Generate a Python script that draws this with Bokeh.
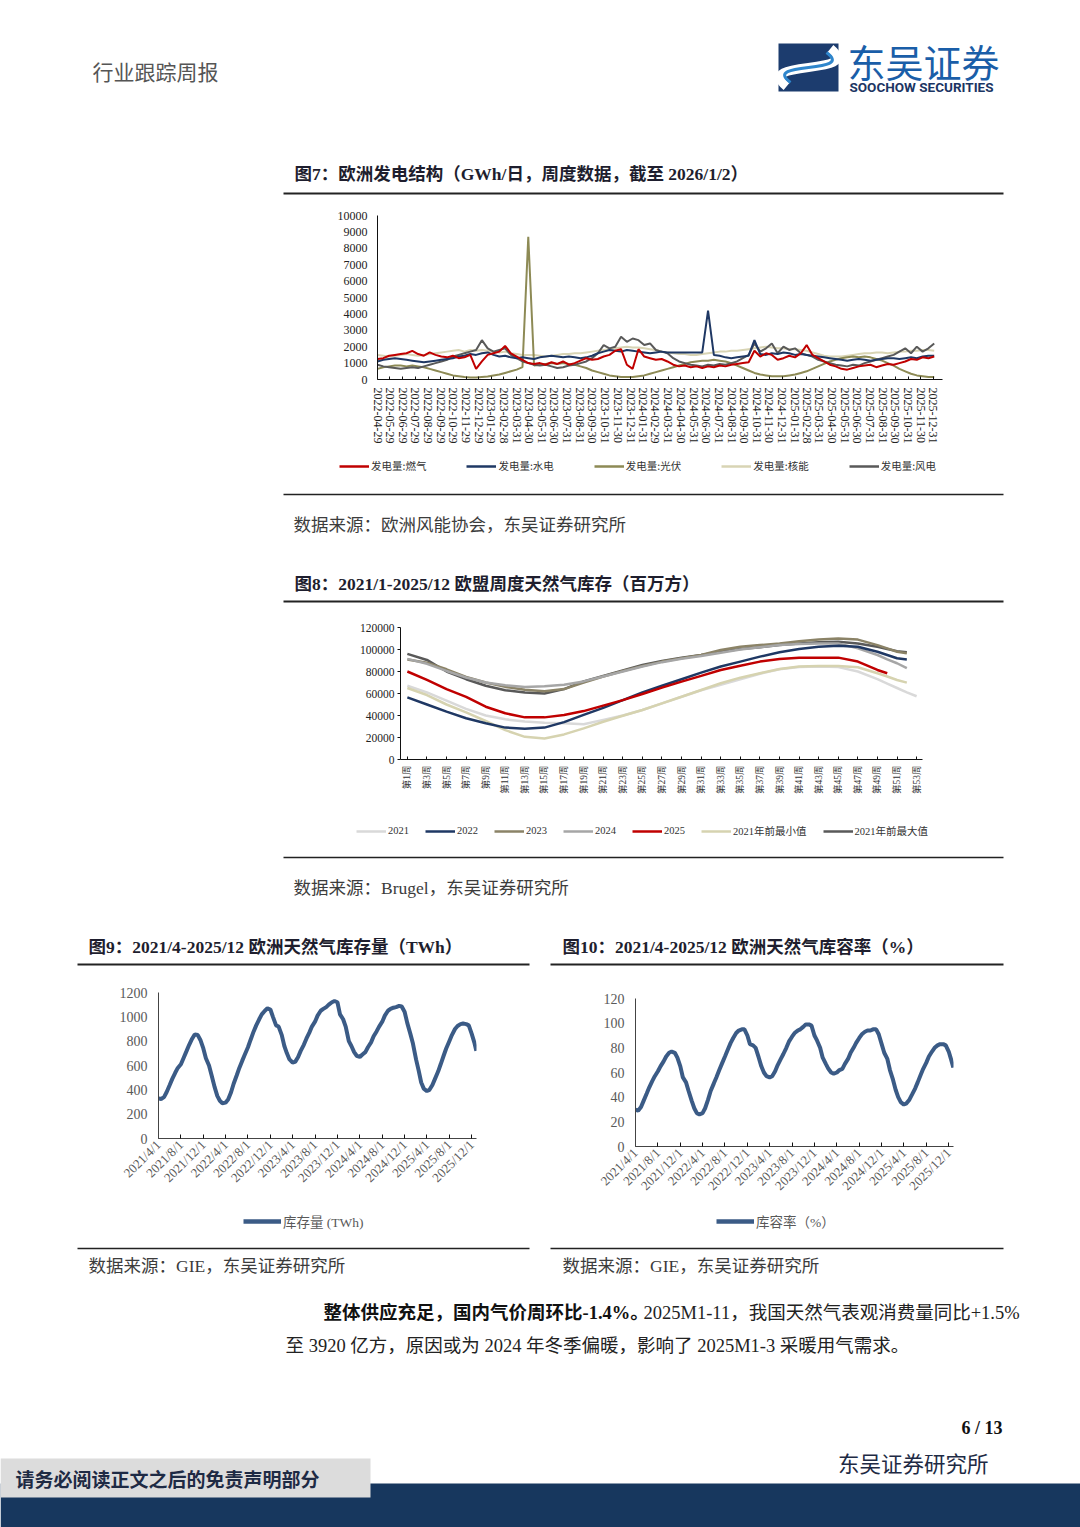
import numpy as np
import pandas as pd
from bokeh.plotting import figure
from bokeh.models import Range1d, FixedTicker, Legend, LegendItem, BasicTickFormatter
from bokeh.layouts import column, row
from bokeh.core.properties import value
from bokeh.embed import file_html
from bokeh.resources import INLINE

CJK = "Noto Sans CJK SC"
SERIF = "Liberation Serif"
MIX = "Liberation Serif, Noto Sans CJK SC"
nan = float("nan")

# ---------------- Figure 7 data: European power generation (GWh/day), bi-weekly ----------------
start7 = "2022-04-29"
gen_gas = [1250,1300,1450,1500,1550,1600,1750,1550,1450,1650,
           1500,1400,1350,1450,1300,1350,1500,650,
           1100,1500,1600,1700,2050,1600,1400,1200,
           1000,950,1000,900,1050,950,1100,900,1000,1150,1300,1200,
           1250,1400,1500,1750,1850,900,650,1850,1400,1300,1200,1250,
           1100,900,800,850,750,800,700,800,750,850,800,900,
           950,1000,1050,1750,1400,1600,1500,1200,1300,1450,1350,1600,
           2100,1500,1300,1100,900,800,650,600,700,800,850,900,
           750,850,950,900,1000,1100,1250,1200,1350,1300,1400]
gen_hydro = [1100,1200,1250,1300,1250,1200,1150,1100,1050,1100,
             1150,1200,1250,1300,1400,1450,1550,1500,
             1600,1650,1500,1400,1450,1350,1300,1350,
             1300,1250,1350,1400,1450,1400,1350,1400,1350,1300,1350,1450,
             1600,1700,1800,1750,1700,1800,1750,1700,1650,1600,1650,1700,
             1650,1650,1650,1650,1650,1650,1650,4200,1500,1450,1350,1300,
             1350,1400,1450,2400,1550,1500,1600,1550,1650,1600,1500,1550,
             1500,1450,1400,1350,1300,1250,1200,1150,1200,1250,1200,1150,
             1200,1250,1300,1300,1250,1300,1350,1300,1400,1450,1450]
gen_solar = [650,750,800,850,850,800,850,800,750,650,
             550,450,350,250,200,150,120,120,
             150,180,250,300,400,500,600,750,
             8700,850,900,950,1000,950,1000,950,900,800,700,550,
             450,350,250,200,150,150,150,200,250,350,450,550,
             650,750,850,950,1050,1100,1150,1150,1200,1150,1100,1000,
             850,700,550,400,300,250,200,200,200,250,300,400,
             500,650,800,950,1100,1200,1300,1350,1400,1350,1400,1350,
             1250,1150,1000,850,650,500,350,250,200,150,150]
gen_nuclear = [1500,1450,1400,1450,1500,1550,1500,1450,1500,1550,
               1600,1650,1700,1750,1800,1700,1800,1750,
               1800,1750,1700,1650,1700,1600,1550,1500,
               1500,1500,1450,1400,1450,1500,1550,1550,1600,1600,1650,1700,
               1750,1800,1850,1900,1950,2000,1950,1950,1900,1850,1800,1700,
               1650,1600,1550,1550,1500,1500,1550,1600,1650,1700,1700,1750,
               1750,1800,1850,1900,1950,2000,1950,1900,1900,1850,1850,1800,
               1750,1650,1550,1450,1400,1400,1400,1450,1500,1550,1600,1600,
               1650,1650,1600,1650,1700,1700,1750,1750,1800,1800,1750]
gen_wind = [900,800,750,700,650,700,750,700,800,900,
            1000,1100,1200,1400,1500,1600,1700,1800,
            2400,1900,1700,1800,1900,1500,1300,1100,
            1000,900,850,900,800,700,750,850,900,1000,1100,1300,
            1600,2100,1900,2000,2600,2300,2500,2400,2100,2200,1800,1700,
            1600,1300,1100,1000,900,850,800,900,850,950,900,1000,
            1100,1300,1500,2200,1700,1900,2200,1600,2000,1800,1900,1600,
            1500,1400,1200,1100,1000,900,850,800,900,850,1000,1100,
            1200,1300,1400,1500,1700,1900,1600,2000,1700,1900,2200]
labels7 = ["2022-04-29","2022-05-29","2022-06-29","2022-07-29","2022-08-29","2022-09-29",
           "2022-10-29","2022-11-29","2022-12-29","2023-01-29","2023-02-28","2023-03-31",
           "2023-04-30","2023-05-31","2023-06-30","2023-07-31","2023-08-31","2023-09-30",
           "2023-10-31","2023-11-30","2023-12-31","2024-01-31","2024-02-29","2024-03-31",
           "2024-04-30","2024-05-31","2024-06-30","2024-07-31","2024-08-31","2024-09-30",
           "2024-10-31","2024-11-30","2024-12-31","2025-01-31","2025-02-28","2025-03-31",
           "2025-04-30","2025-05-31","2025-06-30","2025-07-31","2025-08-31","2025-09-30",
           "2025-10-31","2025-11-30","2025-12-31"]
names7 = ["发电量:燃气", "发电量:水电", "发电量:光伏", "发电量:核能", "发电量:风电"]
yticks7 = [0,1000,2000,3000,4000,5000,6000,7000,8000,9000,10000]

# ---------------- Figure 8 data: EU weekly gas storage (million m3) ----------------
weeks8 = [1,3,5,7,9,11,13,15,17,19,21,23,25,27,29,31,33,35,37,39,41,43,45,47,49,50,51,52,53]
st2021 = [67000,61000,53500,46000,40000,36500,34500,33500,33000,32000,36000,40000,45000,51000,57000,
          63000,68000,73000,78000,82000,84000,84500,84000,80000,73000,69000,65000,61000,57500]
st2022 = [56500,50000,43500,37500,33000,29000,28000,29000,34000,40500,47000,54000,61000,67000,73000,
          79000,84500,89000,93500,97500,100500,102500,103500,102500,98000,95000,92000,91000,nan]
st2023 = [91000,88000,82000,75000,70000,66000,63500,62000,64000,70000,75500,80500,85000,89000,92000,
          95000,99500,102500,104000,105500,107500,109000,110000,109000,104000,101000,98000,96500,nan]
st2024 = [91500,87000,80500,74500,70000,67500,66000,66500,68000,71000,75500,80000,84500,88500,91500,
          94000,97000,100000,102000,104000,105000,105500,105500,101000,95000,91000,87500,83000,nan]
st2025 = [80000,72300,64000,57000,48000,42000,38300,38300,40400,44000,49000,54000,59500,65300,70800,
          76000,81400,85300,89000,91400,92600,92600,92600,89000,81400,78400,nan,nan,nan]
st_min = [65000,58600,50000,42800,35000,26700,20600,19100,22800,28300,34300,39800,45000,51000,57000,
          63200,69300,74400,78400,82300,84500,85000,85000,83800,78400,75500,72300,69900,nan]
st_max = [96000,90500,80000,73000,67000,63000,61000,60000,64000,71000,76000,81000,86000,89500,92500,
          95000,98000,100500,102000,104000,105500,106500,107000,105500,102500,100500,98500,97500,nan]
ticks8 = list(range(1, 54, 2))
yticks8 = [0,20000,40000,60000,80000,100000,120000]
names8 = ["2021", "2022", "2023", "2024", "2025", "2021年前最小值", "2021年前最大值"]

# ---------------- Figure 9 / 10 data: EU gas storage (TWh) and fill rate (%), semi-monthly ----------------
stor_twh = [330,325,340,380,440,490,540,580,610,660,720,770,820,855,850,810,740,660,
            600,520,420,350,310,290,295,320,380,450,520,580,640,690,750,810,880,930,980,1020,1050,1070,1060,1000,
            930,920,850,760,700,650,625,630,670,720,770,820,870,920,960,1010,1050,1065,1080,1100,1120,1130,1120,1020,
            980,920,800,760,710,680,670,690,710,750,790,840,880,920,960,1010,1050,1065,1075,1080,1090,1085,1040,950,
            860,780,650,560,460,410,390,400,440,490,550,610,680,740,800,850,900,925,940,945,940,930,860,790,
            720]
fill_pct = [30,29,32,37,43,48,53,57,61,65,69,73,76,77,76,72,65,56,
            52,45,37,31,27,26,27,31,38,45,51,56,62,67,73,78,84,88,92,94,95,95,90,83,
            82,80,72,65,60,57,56,57,61,66,71,75,80,85,89,92,94,95,97,99,99,98,90,86,
            80,72,67,63,60,59,60,62,63,67,71,76,80,84,88,91,93,94,94,95,95,91,83,76,
            71,62,54,46,40,36,34,35,38,42,47,52,58,63,68,73,77,80,82,83,83,82,77,70,
            64]
labels9 = ["2021/4/1","2021/8/1","2021/12/1","2022/4/1","2022/8/1","2022/12/1","2023/4/1",
           "2023/8/1","2023/12/1","2024/4/1","2024/8/1","2024/12/1","2025/4/1","2025/8/1","2025/12/1"]
yticks9 = [0,200,400,600,800,1000,1200]
yticks10 = [0,20,40,60,80,100,120]

W = 1080
cols7 = ["#c00000", "#1f3864", "#8d8a55", "#d8d4b4", "#595959"]
cols8 = ["#d9d9d9", "#1f3864", "#8b8367", "#a6a6a6", "#c00000", "#d6d3b0", "#595959"]
LINE9 = "#3b5b86"


# ---------------- helpers ----------------
def decor(y0, y1):
    p = figure(width=W, height=y1 - y0, x_range=Range1d(0, W), y_range=Range1d(y1, y0),
               x_axis_location=None, y_axis_location=None, toolbar_location=None,
               output_backend="svg", min_border=0)
    p.outline_line_color = None
    p.grid.visible = False
    return p


def txt(p, x, y, s, size, color="#333333", font=CJK, style="normal", align="left"):
    p.text(x=[x], y=[y], text=[s], text_font=value(font), text_font_size=value(f"{size}px"),
           text_color=color, text_font_style=style, text_baseline="middle", text_align=align)


def hline(p, x0, x1, y, w=1.5, color="#222222"):
    p.segment(x0=[x0], y0=[y], x1=[x1], y1=[y], line_width=w, line_color=color)


def chart(width, height, xr, yr, ml, mr, mt, mb):
    p = figure(width=width, height=height, x_range=xr, y_range=yr, toolbar_location=None,
               output_backend="svg", min_border_left=ml, min_border_right=mr,
               min_border_top=mt, min_border_bottom=mb)
    p.outline_line_color = None
    p.grid.visible = False
    for ax in (p.xaxis[0], p.yaxis[0]):
        ax.axis_line_color = "#111111"
        ax.axis_line_width = 1
        ax.minor_tick_line_color = None
        ax.major_tick_line_color = "#111111"
    return p


def legend_block(p, names, colors, widths, loc, size, font=CJK, color="#333333", gw=30, gh=10, spacing=20):
    # legend keys: invisible (NaN) line renderers carrying only the series styles
    items = []
    for nm, c, w in zip(names, colors, widths):
        r = p.line(x=[nan], y=[nan], line_color=c, line_width=w)
        items.append(LegendItem(label=nm, renderers=[r], index=0))
    leg = Legend(items=items, location=loc, orientation="horizontal")
    leg.border_line_color = None
    leg.background_fill_alpha = 0
    leg.label_text_font = font
    leg.label_text_font_size = f"{size}px"
    leg.label_text_color = color
    leg.glyph_width = gw
    leg.glyph_height = gh
    leg.spacing = spacing
    leg.label_standoff = 2
    leg.padding = 4
    leg.margin = 0
    p.add_layout(leg)


# ---------------- band 1: header + title 7 (page y 0-200) ----------------
d1 = decor(0, 200)
txt(d1, 92, 70, "行业跟踪周报", 21, color="#555555")
d1.quad(left=[778], right=[838], top=[43], bottom=[91], fill_color="#1c3c6e", line_color=None)
d1.bezier(x0=[786], y0=[86], x1=[830], y1=[48], cx0=[752], cy0=[58], cx1=[864], cy1=[76],
          line_color="white", line_width=9)
d1.bezier(x0=[790], y0=[82], x1=[826], y1=[52], cx0=[760], cy0=[60], cx1=[856], cy1=[74],
          line_color="#2f86cc", line_width=3)
txt(d1, 847, 60, "东吴证券", 38, color="#1a5ea8")
txt(d1, 849, 86, "SOOCHOW SECURITIES", 13.5, color="#1c3563", font="Roboto", style="bold")
txt(d1, 294, 173, "图7：欧洲发电结构（GWh/日，周度数据，截至 2026/1/2）", 17.5, color="#1e1e2e", font=MIX, style="bold")
hline(d1, 283, 1003, 193, w=2.2)

# ---------------- band 2: chart 7 (page y 200-455) ----------------
s7 = pd.Timestamp(start7)
dates7 = pd.date_range(s7, periods=len(gen_gas), freq="14D")
x7 = [int(v) for v in (dates7 - s7).days]
tick7 = [int(v) for v in (pd.to_datetime(labels7) - s7).days]
p7 = chart(W, 255, Range1d(0, 1364), Range1d(0, 10000), 377, 138, 15, 76)
series7 = [gen_gas, gen_hydro, gen_solar, gen_nuclear, gen_wind]
for idx in [3, 2, 4, 1, 0]:
    p7.line(x7, series7[idx], line_color=cols7[idx], line_width=2)
p7.xaxis.ticker = FixedTicker(ticks=tick7)
p7.xaxis.major_label_overrides = {t: l for t, l in zip(tick7, labels7)}
p7.xaxis.major_label_orientation = -np.pi / 2
p7.xaxis.major_label_text_font = SERIF
p7.xaxis.major_label_text_font_size = "12px"
p7.xaxis.major_label_text_color = "#222222"
p7.xaxis.major_tick_in = 3
p7.xaxis.major_tick_out = 0
p7.xaxis.major_label_standoff = 8
p7.yaxis.ticker = FixedTicker(ticks=yticks7)
p7.yaxis.major_label_text_font = SERIF
p7.yaxis.major_label_text_font_size = "12px"
p7.yaxis.major_label_text_color = "#222222"
p7.yaxis.major_tick_in = 0
p7.yaxis.major_tick_out = 0
p7.yaxis.major_label_standoff = 10

# ---------------- band 3 (page y 455-615): legend 7, source, title 8 ----------------
d3 = decor(455, 615)
legend_block(d3, names7, cols7, [2.5] * 5, (339, 142), 10.5, spacing=40)
hline(d3, 283, 1003, 494, w=1.5)
txt(d3, 293, 523, "数据来源：欧洲风能协会，东吴证券研究所", 17.5, color="#3c3c3c")
txt(d3, 294, 583, "图8：2021/1-2025/12 欧盟周度天然气库存（百万方）", 17.5, color="#1e1e2e", font=MIX, style="bold")
hline(d3, 283, 1003, 601, w=2.2)

# ---------------- band 4: chart 8 (page y 615-815) ----------------
p8 = chart(W, 200, Range1d(0.3, 53.6), Range1d(0, 120000), 400, 158, 12, 56)
series8 = [st2021, st2022, st2023, st2024, st2025, st_min, st_max]
for idx in [0, 5, 6, 2, 3, 1, 4]:
    p8.line(weeks8, series8[idx], line_color=cols8[idx], line_width=2.5)
p8.xaxis.ticker = FixedTicker(ticks=ticks8)
p8.xaxis.major_label_overrides = {t: f"第{t}周" for t in ticks8}
p8.xaxis.major_label_orientation = np.pi / 2
p8.xaxis.major_label_text_font = MIX
p8.xaxis.major_label_text_font_size = "9.5px"
p8.xaxis.major_label_text_color = "#333333"
p8.xaxis.major_tick_in = 3
p8.xaxis.major_tick_out = 0
p8.xaxis.major_label_standoff = 6
p8.yaxis.ticker = FixedTicker(ticks=yticks8)
p8.yaxis.formatter = BasicTickFormatter(use_scientific=False)
p8.yaxis.major_label_text_font = SERIF
p8.yaxis.major_label_text_font_size = "11.5px"
p8.yaxis.major_label_text_color = "#222222"
p8.yaxis.major_tick_in = 0
p8.yaxis.major_tick_out = 3
p8.yaxis.major_label_standoff = 3

# ---------------- band 5 (page y 815-980): legend 8, source, titles 9/10 ----------------
d5 = decor(815, 980)
legend_block(d5, names8, cols8, [2.5] * 7, (356, 142), 10.5, font=MIX, spacing=16)
hline(d5, 283, 1003, 857, w=1.5)
txt(d5, 293, 887, "数据来源：Brugel，东吴证券研究所", 17.5, color="#3c3c3c", font=MIX)
txt(d5, 88, 946, "图9：2021/4-2025/12 欧洲天然气库存量（TWh）", 17.5, color="#1e1e2e", font=MIX, style="bold")
txt(d5, 562, 946, "图10：2021/4-2025/12 欧洲天然气库容率（%）", 17.5, color="#1e1e2e", font=MIX, style="bold")
hline(d5, 77, 529, 964, w=2.2)
hline(d5, 550, 1003, 964, w=2.2)

# ---------------- band 6: charts 9 & 10 (page y 980-1208) ----------------
s9 = pd.Timestamp("2021-04-01")
dates9 = list(pd.date_range("2021-04-01", "2025-12-15", freq="SMS")) + [pd.Timestamp("2025-12-26")]
x9 = [int((d - s9).days) for d in dates9]
tick9 = [int(v) for v in (pd.to_datetime(labels9, format="%Y/%m/%d") - s9).days]


def small_chart(width, ml, mr, mt, mb, yvals, yticks, ymax):
    p = chart(width, 228, Range1d(0, 1731), Range1d(0, ymax), ml, mr, mt, mb)
    p.line(x9, yvals, line_color=LINE9, line_width=4)
    p.xaxis.ticker = FixedTicker(ticks=tick9)
    p.xaxis.major_label_overrides = {t: l for t, l in zip(tick9, labels9)}
    p.xaxis.major_label_orientation = np.pi / 4
    p.xaxis.major_label_text_font = SERIF
    p.xaxis.major_label_text_font_size = "13px"
    p.xaxis.major_label_text_color = "#595959"
    p.xaxis.major_tick_in = 4
    p.xaxis.major_tick_out = 0
    p.xaxis.major_label_standoff = 4
    p.yaxis.ticker = FixedTicker(ticks=yticks)
    p.yaxis.major_label_text_font = SERIF
    p.yaxis.major_label_text_font_size = "14px"
    p.yaxis.major_label_text_color = "#595959"
    p.yaxis.major_tick_in = 0
    p.yaxis.major_tick_out = 0
    p.yaxis.major_label_standoff = 11
    p.xaxis.axis_line_color = "#444444"
    p.yaxis.axis_line_color = "#444444"
    return p


p9 = small_chart(540, 158, 64, 12, 70, stor_twh, yticks9, 1200)
p10 = small_chart(540, 95, 127, 18, 62, fill_pct, yticks10, 120)

# ---------------- band 7 (page y 1208-1527): legends 9/10, sources, body text, footer ----------------
d7 = decor(1208, 1527)
legend_block(d7, ["库存量 (TWh)"], [LINE9], [4.5], (243, 296), 13.5, font=MIX, color="#595959", gw=38)
legend_block(d7, ["库容率（%）"], [LINE9], [4.5], (716, 296), 13.5, font=MIX, color="#595959", gw=38)
hline(d7, 77, 529, 1248, w=1.5)
hline(d7, 550, 1003, 1248, w=1.5)
txt(d7, 88, 1265, "数据来源：GIE，东吴证券研究所", 17.5, color="#3c3c3c", font=MIX)
txt(d7, 562, 1265, "数据来源：GIE，东吴证券研究所", 17.5, color="#3c3c3c", font=MIX)
txt(d7, 323, 1312, "整体供应充足，国内气价周环比-1.4%。", 18.5, color="#111111", font=MIX, style="bold")
txt(d7, 643, 1312, "2025M1-11，我国天然气表观消费量同比+1.5%", 18.5, color="#222222", font=MIX)
txt(d7, 285, 1345, "至 3920 亿方，原因或为 2024 年冬季偏暖，影响了 2025M1-3 采暖用气需求。", 18.5, color="#222222", font=MIX)
txt(d7, 1002, 1427, "6 / 13", 18, color="#111111", font=SERIF, style="bold", align="right")
txt(d7, 988, 1462, "东吴证券研究所", 21.5, color="#1e2a44", align="right")
d7.quad(left=[0], right=[1080], top=[1483], bottom=[1527], fill_color="#17375e", line_color=None)
d7.quad(left=[0], right=[370], top=[1458], bottom=[1497], fill_color="#dcdcdc", line_color=None)
txt(d7, 15, 1478, "请务必阅读正文之后的免责声明部分", 19, color="#1e2a44", style="bold")

roots = [d1, p7, d3, p8, d5, row(column(p9), column(p10)), d7]
open("out.html", "w").write(file_html(roots, INLINE))
